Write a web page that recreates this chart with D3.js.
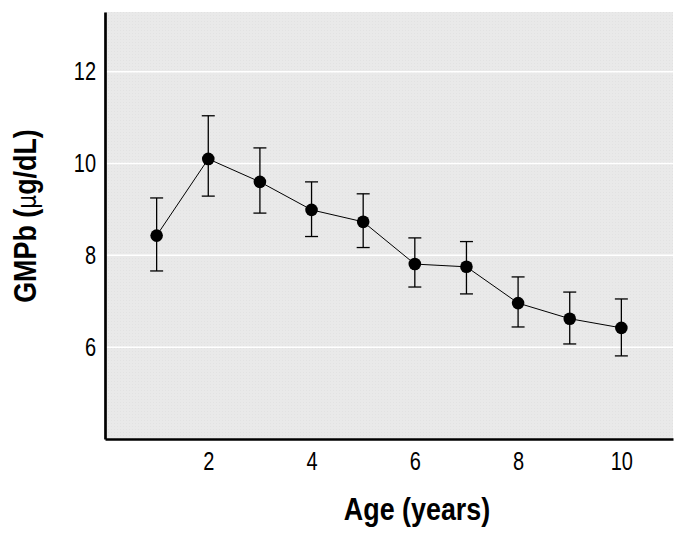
<!DOCTYPE html>
<html>
<head>
<meta charset="utf-8">
<script src="https://cdn.jsdelivr.net/npm/d3@7"></script>
<style>
  html, body { margin: 0; padding: 0; background: #ffffff; }
  svg { display: block; }
</style>
</head>
<body>
<div id="chart"></div>
<script>
// ---- Data ----
const ages = [1, 2, 3, 4, 5, 6, 7, 8, 9, 10];
const gmpb = [8.43, 10.10, 9.60, 8.99, 8.73, 7.81, 7.75, 6.96, 6.62, 6.42];
const upper = [9.25, 11.04, 10.34, 9.60, 9.34, 8.38, 8.30, 7.53, 7.20, 7.05];
const lower = [7.66, 9.29, 8.92, 8.41, 8.17, 7.31, 7.16, 6.44, 6.07, 5.81];
const xTicks = [2, 4, 6, 8, 10];
const yTicks = [6, 8, 10, 12];

const W = 683, H = 533;
const margin = { left: 105, right: 10, top: 12, bottom: 94 };
const SX = 0.84;  // horizontal condensing of title font
const TSX = 0.8;  // horizontal condensing of tick font

const svg = d3.select("#chart").append("svg")
  .attr("width", W).attr("height", H);

const x = d3.scaleLinear().domain([0, 11]).range([margin.left, W - margin.right]);
const y = d3.scaleLinear().domain([4, 13.3]).range([H - margin.bottom, margin.top]);

// texture pattern
const defs = svg.append("defs");
const pat = defs.append("pattern").attr("id", "dots")
  .attr("width", 3).attr("height", 3).attr("patternUnits", "userSpaceOnUse");
pat.append("rect").attr("width", 3).attr("height", 3).attr("fill", "#e9e9e9");
pat.append("rect").attr("width", 1).attr("height", 1).attr("fill", "#e2e2e2");

// plot background
svg.append("rect")
  .attr("x", x(0)).attr("y", y(13.3))
  .attr("width", x(11) - x(0)).attr("height", y(4) - y(13.3))
  .attr("fill", "url(#dots)");

// gridlines
svg.append("g").selectAll("line").data(yTicks).join("line")
  .attr("x1", x(0)).attr("x2", x(11))
  .attr("y1", d => y(d)).attr("y2", d => y(d))
  .attr("stroke", "#ffffff").attr("stroke-width", 1.5);

const font = "'Liberation Sans', Arial, sans-serif";

// y axis
const yAxis = svg.append("g")
  .attr("transform", `translate(${x(0)},0)`)
  .call(d3.axisLeft(y).tickValues(yTicks).tickSize(0).tickPadding(9).tickFormat(d3.format("d")));
yAxis.select(".domain").attr("stroke", "#000").attr("stroke-width", 2.7);
yAxis.selectAll("text")
  .attr("font-family", font).attr("font-size", 25).attr("fill", "#000")
  .attr("x", -9 / TSX).attr("transform", `scale(${TSX},1)`);

// x axis
const xAxis = svg.append("g")
  .attr("transform", `translate(0,${y(4)})`)
  .call(d3.axisBottom(x).tickValues(xTicks).tickSize(0).tickPadding(13).tickFormat(d3.format("d")));
xAxis.select(".domain").attr("stroke", "#000").attr("stroke-width", 2.7);
xAxis.selectAll("text")
  .attr("font-family", font).attr("font-size", 25).attr("fill", "#000")
  .attr("transform", `scale(${TSX},1)`);

// line
svg.append("path")
  .datum(ages.map((a, i) => [a, gmpb[i]]))
  .attr("fill", "none").attr("stroke", "#000").attr("stroke-width", 1)
  .attr("d", d3.line().x(d => x(d[0])).y(d => y(d[1])));

// error bars
const eb = svg.append("g").attr("stroke", "#000").attr("stroke-width", 1.3);
ages.forEach((a, i) => {
  eb.append("line").attr("x1", x(a)).attr("x2", x(a)).attr("y1", y(upper[i])).attr("y2", y(lower[i]));
  eb.append("line").attr("x1", x(a) - 6.5).attr("x2", x(a) + 6.5).attr("y1", y(upper[i])).attr("y2", y(upper[i]));
  eb.append("line").attr("x1", x(a) - 6.5).attr("x2", x(a) + 6.5).attr("y1", y(lower[i])).attr("y2", y(lower[i]));
});

// points
svg.append("g").selectAll("circle").data(ages).join("circle")
  .attr("cx", d => x(d)).attr("cy", (d, i) => y(gmpb[i]))
  .attr("r", 6.3).attr("fill", "#000");

// axis titles
svg.append("text")
  .attr("transform", `translate(417,520) scale(${SX},1)`)
  .attr("text-anchor", "middle")
  .attr("font-family", font).attr("font-weight", "bold").attr("font-size", 32)
  .text("Age (years)");

const yt = svg.append("text")
  .attr("transform", `translate(36,216) rotate(-90) scale(${SX},1)`)
  .attr("text-anchor", "middle")
  .attr("font-family", font).attr("font-weight", "bold").attr("font-size", 32);
yt.append("tspan").text("GMPb (");
yt.append("tspan").attr("font-weight", "normal").attr("font-family", "'DejaVu Sans', sans-serif").attr("font-size", 26).text("μ");
yt.append("tspan").text("g/dL)");
</script>
</body>
</html>
